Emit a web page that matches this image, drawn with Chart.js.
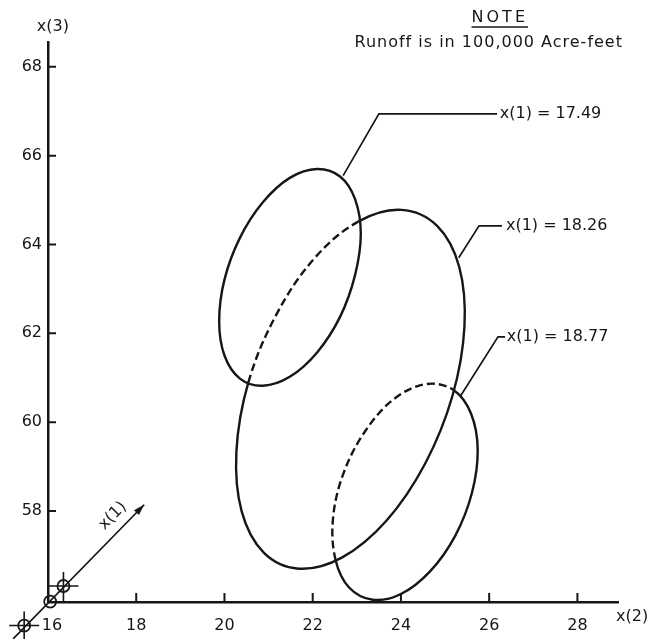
<!DOCTYPE html>
<html>
<head>
<meta charset="utf-8">
<style>
  html, body { margin: 0; padding: 0; background: #fff; }
  #wrap { width: 653px; height: 639px; }
</style>
</head>
<body>
<div id="wrap"><canvas id="chart"></canvas></div>
<script src="https://cdn.jsdelivr.net/npm/chart.js@4/dist/chart.umd.min.js"></script>
<script>
const ink = '#161616';
const family = '"DejaVu Sans", sans-serif';

const xTicks = [16, 18, 20, 22, 24, 26, 28];
const yTicks = [58, 60, 62, 64, 66, 68];

// x(1) = 17.49, fully visible (first point repeated to close)
const curve1749 = [
  [23.09, 64.24], [22.96, 63.31], [22.62, 62.37], [22.10, 61.57],
  [21.48, 61.02], [20.87, 60.82], [20.35, 60.98], [20.00, 61.50],
  [19.88, 62.28], [20.00, 63.21], [20.35, 64.15], [20.87, 64.95],
  [21.48, 65.50], [22.10, 65.70], [22.62, 65.53], [22.96, 65.02],
  [23.09, 64.24]
];
// x(1) = 18.26, segments 0..2 hidden behind 17.49 (dashed)
const curve1826 = [
  [20.54, 60.89], [21.17, 62.41], [22.04, 63.69], [23.04, 64.52],
  [24.01, 64.78], [24.82, 64.42], [25.32, 63.50], [25.44, 62.16],
  [25.17, 60.60], [24.55, 59.07], [23.67, 57.78], [22.66, 56.95],
  [21.68, 56.70], [20.89, 57.06], [20.39, 57.99], [20.27, 59.33],
  [20.54, 60.89]
];
const hidden1826 = [0, 2];
// x(1) = 18.77, segments 0..5 hidden behind 18.26 (dashed)
const curve1877 = [
  [22.52, 56.89], [22.46, 57.83], [22.71, 58.88], [23.22, 59.84],
  [23.88, 60.55], [24.59, 60.86], [25.20, 60.72],
  [25.59, 60.19], [25.74, 59.38], [25.61, 58.41], [25.23, 57.44],
  [24.66, 56.64], [24.00, 56.13], [23.36, 56.00], [22.83, 56.27],
  [22.52, 56.89]
];
const hidden1877 = [0, 5];

const curveLabels = ['x(1) = 17.49', 'x(1) = 18.26', 'x(1) = 18.77'];
const labelAt = [[26.24, 66.94], [26.38, 64.42], [26.40, 61.92]];
const leader1749 = [[22.69, 65.55], [23.50, 66.94], [26.18, 66.94]];
const leader1826 = [[25.31, 63.70], [25.77, 64.42], [26.29, 64.42]];
const leader1877 = [[25.35, 60.59], [26.20, 61.92], [26.36, 61.92]];

// oblique x(1) axis drawn in the x(2)/x(3) plane
const axis1 = [[15.21, 55.12], [18.18, 58.14]];
const axis1Marks = [[15.46, 55.42], [16.05, 55.96], [16.35, 56.31]];
const axis1Cross = [[15.46, 55.42], [16.35, 56.31]];
const axis1LabelAt = [17.47, 57.89];

const xTitleAt = [29.24, 55.61];
const yTitleAt = [16.11, 68.90];
const noteAt = [26.24, 69.10];
const runoffAt = [25.99, 68.54];

const pts = arr => arr.map(p => ({ x: p[0], y: p[1] }));

// wrap one point on each side so the spline closes smoothly; the two
// extra segments are left transparent
const ellipse = (loop, hidden) => {
  const n = loop.length;
  const data = [loop[n - 2], ...loop, loop[1]];
  const last = data.length - 1;
  return {
    data: pts(data),
    showLine: true,
    borderColor: ink,
    borderWidth: 2.4,
    pointRadius: 0,
    tension: 0.36,
    fill: false,
    clip: false,
    segment: {
      borderColor: ctx => (ctx.p0DataIndex === 0 || ctx.p1DataIndex === last) ? 'rgba(0,0,0,0)' : undefined,
      borderDash: ctx => {
        const i = ctx.p0DataIndex - 1;
        return hidden && i >= hidden[0] && i <= hidden[1] ? [8, 4] : undefined;
      }
    }
  };
};

const thin = data => ({
  data: pts(data),
  showLine: true,
  borderColor: ink,
  borderWidth: 1.7,
  pointRadius: 0,
  tension: 0,
  fill: false,
  clip: false
});

const decor = {
  id: 'decor',
  afterDatasetsDraw(chart) {
    const { ctx } = chart;
    const x = chart.scales.x, y = chart.scales.y;
    const px = p => [x.getPixelForValue(p[0]), y.getPixelForValue(p[1])];
    ctx.save();
    ctx.strokeStyle = ink;
    ctx.fillStyle = ink;

    // tick marks point into the plot
    ctx.lineWidth = 2;
    ctx.beginPath();
    xTicks.slice(1).forEach(v => {
      const p = x.getPixelForValue(v);
      ctx.moveTo(p, y.bottom);
      ctx.lineTo(p, y.bottom - 9);
    });
    yTicks.forEach(v => {
      const p = y.getPixelForValue(v);
      ctx.moveTo(x.left, p);
      ctx.lineTo(x.left + 8, p);
    });
    ctx.stroke();

    // circles and crosses on the x(1) axis
    ctx.lineWidth = 1.8;
    axis1Marks.forEach(m => {
      const [cx, cy] = px(m);
      ctx.beginPath();
      ctx.arc(cx, cy, 6, 0, Math.PI * 2);
      ctx.stroke();
    });
    ctx.lineWidth = 1.6;
    axis1Cross.forEach(m => {
      const [cx, cy] = px(m);
      ctx.beginPath();
      ctx.moveTo(cx - 15, cy);
      ctx.lineTo(cx + 15, cy);
      ctx.moveTo(cx, cy - 14);
      ctx.lineTo(cx, cy + 15);
      ctx.stroke();
    });

    // arrow head of x(1)
    const [ax, ay] = px(axis1[1]);
    const [bx, by] = px(axis1[0]);
    const ang = Math.atan2(ay - by, ax - bx);
    ctx.save();
    ctx.translate(ax, ay);
    ctx.rotate(ang);
    ctx.beginPath();
    ctx.moveTo(0, 0);
    ctx.lineTo(-11, -3.5);
    ctx.lineTo(-11, 3.5);
    ctx.closePath();
    ctx.fill();
    ctx.restore();

    ctx.font = '16px ' + family;
    ctx.textBaseline = 'middle';

    ctx.textAlign = 'left';
    curveLabels.forEach((t, i) => {
      const [lx, ly] = px(labelAt[i]);
      ctx.fillText(t, lx, ly);
    });

    ctx.textAlign = 'center';
    let [tx, ty] = px(xTitleAt);
    ctx.fillText('x(2)', tx, ty);
    [tx, ty] = px(yTitleAt);
    ctx.fillText('x(3)', tx, ty);

    [tx, ty] = px(runoffAt);
    ctx.letterSpacing = '1px';
    ctx.fillText('Runoff is in 100,000 Acre-feet', tx, ty);

    [tx, ty] = px(noteAt);
    ctx.letterSpacing = '3px';
    ctx.fillText('NOTE', tx, ty);
    const w = ctx.measureText('NOTE').width;
    ctx.lineWidth = 1.5;
    ctx.beginPath();
    ctx.moveTo(tx - w / 2, ty + 9);
    ctx.lineTo(tx + w / 2, ty + 9);
    ctx.stroke();
    ctx.letterSpacing = '0px';

    [tx, ty] = px(axis1LabelAt);
    ctx.translate(tx, ty);
    ctx.rotate(ang);
    ctx.fillText('x(1)', 0, 0);
    ctx.restore();
  }
};

new Chart(document.getElementById('chart'), {
  type: 'scatter',
  data: {
    datasets: [
      ellipse(curve1749),
      ellipse(curve1826, hidden1826),
      ellipse(curve1877, hidden1877),
      thin(leader1749),
      thin(leader1826),
      thin(leader1877),
      thin(axis1)
    ]
  },
  options: {
    responsive: true,
    maintainAspectRatio: false,
    animation: false,
    events: [],
    layout: { padding: { top: 42, right: 35, left: 0, bottom: 0 } },
    elements: { line: { capBezierPoints: false } },
    plugins: { legend: { display: false }, tooltip: { enabled: false } },
    scales: {
      x: {
        type: 'linear',
        min: 16,
        max: 28.92,
        afterBuildTicks: s => { s.ticks = xTicks.map(v => ({ value: v })); },
        afterFit: s => { s.height = 37; },
        grid: { display: false, drawTicks: false },
        border: { display: true, color: ink, width: 2.5 },
        ticks: {
          color: ink,
          font: { family: family, size: 16 },
          padding: 14,
          maxRotation: 0,
          autoSkip: false,
          // nudge the origin label clear of the x(1) marks
          callback: v => (v === xTicks[0] ? '\u2002' + v : String(v))
        }
      },
      y: {
        type: 'linear',
        min: 55.95,
        max: 68.56,
        afterBuildTicks: s => { s.ticks = yTicks.map(v => ({ value: v })); },
        afterFit: s => { s.width = 48; },
        grid: { display: false, drawTicks: false },
        border: { display: true, color: ink, width: 2.5 },
        ticks: { color: ink, font: { family: family, size: 16 }, padding: 6, autoSkip: false }
      }
    }
  },
  plugins: [decor]
});
</script>
</body>
</html>
